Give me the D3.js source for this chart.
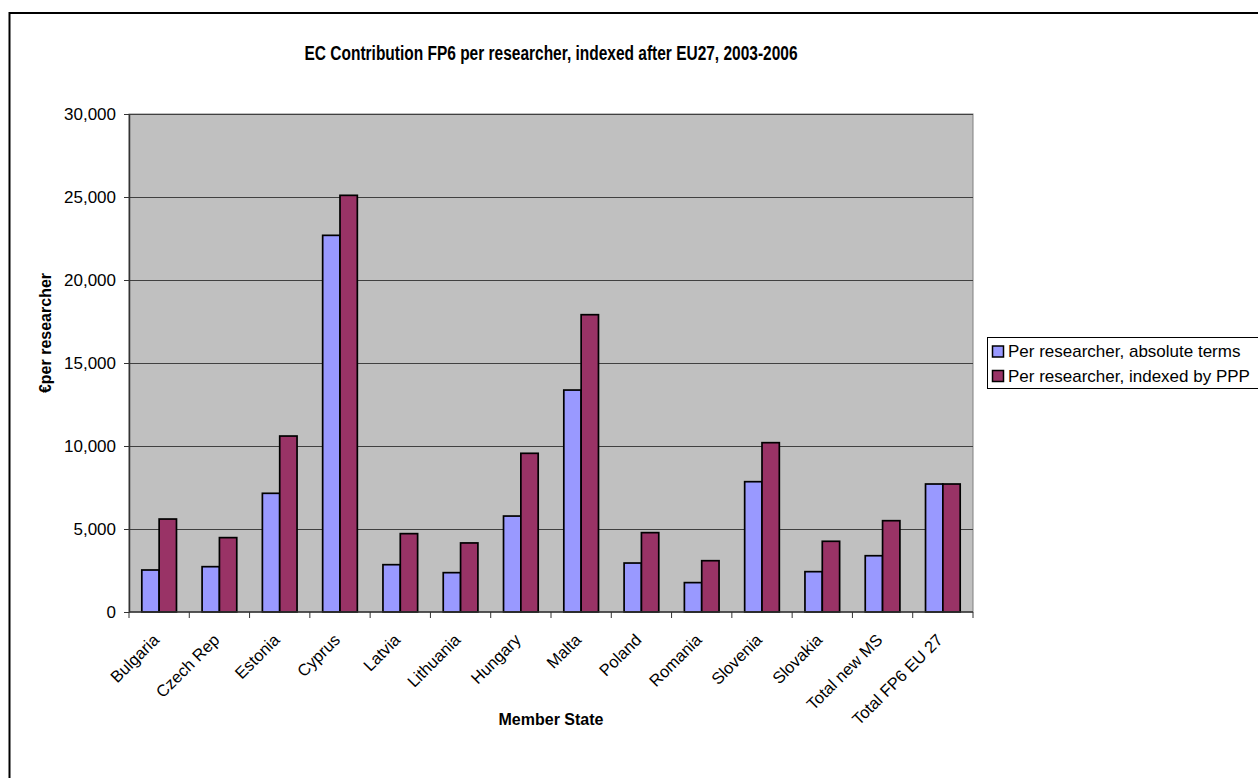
<!DOCTYPE html>
<html>
<head>
<meta charset="utf-8">
<script src="https://cdn.jsdelivr.net/npm/d3@7"></script>
<style>
  html, body { margin: 0; padding: 0; background: #fff; }
  svg { display: block; font-family: "Liberation Sans", Arial, sans-serif; }
</style>
</head>
<body>
<svg id="chart" width="1258" height="778"></svg>
<script>
const categories = ["Bulgaria", "Czech Rep", "Estonia", "Cyprus", "Latvia", "Lithuania", "Hungary", "Malta", "Poland", "Romania", "Slovenia", "Slovakia", "Total new MS", "Total FP6 EU 27"];
const absoluteTerms = [2530, 2730, 7150, 22690, 2850, 2370, 5780, 13370, 2950, 1770, 7850, 2430, 3390, 7710];
const indexedPPP = [5600, 4480, 10600, 25100, 4720, 4160, 9560, 17910, 4780, 3090, 10200, 4260, 5500, 7710];
const seriesNames = ["Per researcher, absolute terms", "Per researcher, indexed by PPP"];
const seriesColors = ["#9999FF", "#993366"];
const yTicks = [0, 5000, 10000, 15000, 20000, 25000, 30000];
const titleText = "EC Contribution FP6 per researcher, indexed after EU27, 2003-2006";
const yTitle = "€per researcher";
const xTitle = "Member State";

const svg = d3.select("#chart");
const plot = { left: 129, top: 114, right: 973, bottom: 612 };

// outer frame
svg.append("rect").attr("x", 9.5).attr("y", 13).attr("width", 1300).attr("height", 800)
  .attr("fill", "#fff").attr("stroke", "#000").attr("stroke-width", 2);

const x = d3.scaleBand().domain(categories).range([plot.left, plot.right])
  .paddingInner(0.425).paddingOuter(0.2125);
const xs = d3.scaleBand().domain([0, 1]).range([0, x.bandwidth()]);
const y = d3.scaleLinear().domain([0, 30000]).range([plot.bottom, plot.top]);

// plot background
svg.append("rect").attr("x", plot.left).attr("y", plot.top)
  .attr("width", plot.right - plot.left).attr("height", plot.bottom - plot.top)
  .attr("fill", "#C0C0C0").attr("stroke", "#808080").attr("stroke-width", 1);

// gridlines
svg.append("g").selectAll("line").data(yTicks.filter(d => d > 0)).join("line")
  .attr("x1", plot.left).attr("x2", plot.right)
  .attr("y1", d => Math.round(y(d)) + 0.5).attr("y2", d => Math.round(y(d)) + 0.5)
  .attr("stroke", "#404040").attr("stroke-width", 1);

// bars
const groups = svg.append("g").selectAll("g").data(categories).join("g")
  .attr("transform", d => `translate(${x(d)},0)`);
[absoluteTerms, indexedPPP].forEach((vals, si) => {
  groups.append("rect")
    .attr("x", xs(si))
    .attr("width", xs.bandwidth())
    .attr("y", (d, i) => y(vals[i]))
    .attr("height", (d, i) => y(0) - y(vals[i]))
    .attr("fill", seriesColors[si])
    .attr("stroke", "#000").attr("stroke-width", 1.7);
});

// y axis
const yAxis = d3.axisLeft(y).tickValues(yTicks).tickSize(5).tickSizeOuter(0)
  .tickFormat(d3.format(","));
const yg = svg.append("g").attr("transform", `translate(${plot.left},0)`).call(yAxis);
yg.select(".domain").attr("stroke", "#333").attr("stroke-width", 1.5);
yg.selectAll(".tick line").attr("stroke", "#333");
yg.selectAll(".tick text").attr("font-size", 17).attr("fill", "#000")
  .attr("font-family", "Liberation Sans, Arial, sans-serif").attr("x", -13).attr("dy", "0.35em");

// x axis baseline + ticks at category boundaries
const xg = svg.append("g");
xg.append("line").attr("x1", plot.left).attr("x2", plot.right)
  .attr("y1", plot.bottom).attr("y2", plot.bottom).attr("stroke", "#333").attr("stroke-width", 1.5);
const step = x.step();
const bounds = d3.range(categories.length + 1).map(i => plot.left + i * step);
xg.selectAll("line.tk").data(bounds).join("line").attr("class", "tk")
  .attr("x1", d => d).attr("x2", d => d).attr("y1", plot.bottom).attr("y2", plot.bottom + 6)
  .attr("stroke", "#333").attr("stroke-width", 1);
xg.selectAll("text").data(categories).join("text")
  .attr("transform", d => `translate(${x(d) + x.bandwidth() / 2 + 1},${plot.bottom + 29}) rotate(-45)`)
  .attr("text-anchor", "end")
  .attr("font-size", 16.5)
  .text(d => d);

// titles
svg.append("text").attr("x", (plot.left + plot.right) / 2).attr("y", 60)
  .attr("text-anchor", "middle").attr("font-weight", "bold").attr("font-size", 20)
  .attr("textLength", 493).attr("lengthAdjust", "spacingAndGlyphs")
  .text(titleText);
svg.append("text").attr("transform", `translate(51,${(plot.top + plot.bottom) / 2 - 30}) rotate(-90)`)
  .attr("text-anchor", "middle").attr("font-weight", "bold").attr("font-size", 16)
  .text(yTitle);
svg.append("text").attr("x", (plot.left + plot.right) / 2).attr("y", 725)
  .attr("text-anchor", "middle").attr("font-weight", "bold").attr("font-size", 16)
  .text(xTitle);

// legend
const lg = svg.append("g");
lg.append("rect").attr("x", 987.5).attr("y", 337.5).attr("width", 280).attr("height", 51)
  .attr("fill", "#fff").attr("stroke", "#000").attr("stroke-width", 1);
seriesNames.forEach((name, i) => {
  const yy = 346 + i * 24.5;
  lg.append("rect").attr("x", 992.5).attr("y", yy).attr("width", 11).attr("height", 11)
    .attr("fill", seriesColors[i]).attr("stroke", "#000").attr("stroke-width", 1.5);
  lg.append("text").attr("x", 1008).attr("y", yy + 11).attr("font-size", 17).text(name);
});
</script>
</body>
</html>
